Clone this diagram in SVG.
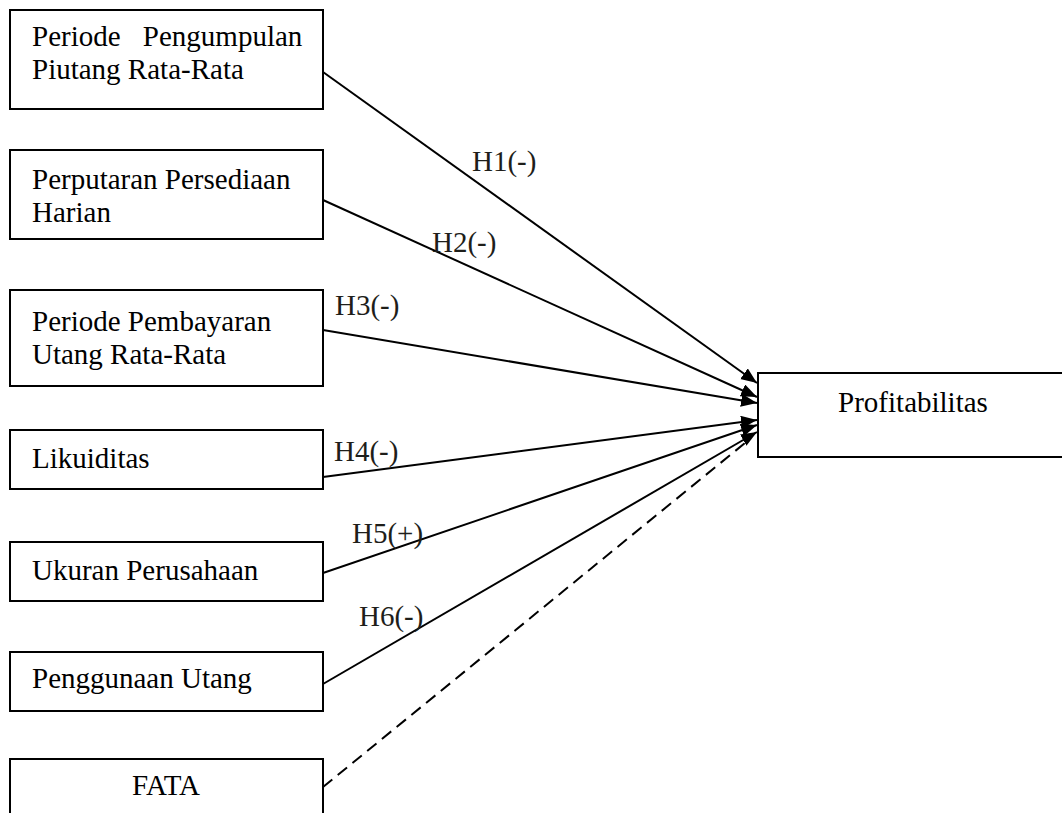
<svg xmlns="http://www.w3.org/2000/svg" width="1062" height="813" viewBox="0 0 1062 813">
<style>
.box{fill:#fff;stroke:#000;stroke-width:2}
.t{font-family:"Liberation Serif","Times New Roman",serif;font-size:29px;fill:#000}
.lbl{font-family:"Liberation Serif","Times New Roman",serif;font-size:29px;fill:#1e1e1a}
.c{stroke:#000;stroke-width:2;fill:none}
.d{stroke-dasharray:12 7}
</style>
<defs>
<marker id="ah" markerUnits="userSpaceOnUse" markerWidth="17" markerHeight="14" refX="16" refY="6.5" orient="auto">
<path d="M0,0 L16,6.5 L0,13 z" fill="#000"/>
</marker>
</defs>
<rect width="1062" height="813" fill="#fff"/>
<g id="connectors">
<line class="c" x1="323" y1="72" x2="757" y2="383" marker-end="url(#ah)"/>
<line class="c" x1="323" y1="200" x2="757" y2="397" marker-end="url(#ah)"/>
<line class="c" x1="323" y1="330" x2="757" y2="403" marker-end="url(#ah)"/>
<line class="c" x1="323" y1="477" x2="757" y2="420" marker-end="url(#ah)"/>
<line class="c" x1="323" y1="573" x2="757" y2="425" marker-end="url(#ah)"/>
<line class="c" x1="323" y1="684" x2="757" y2="432" marker-end="url(#ah)"/>
<line class="c d" x1="323" y1="787" x2="745" y2="443"/>
<text class="lbl" x="472" y="171">H1(-)</text>
<text class="lbl" x="432" y="252">H2(-)</text>
<text class="lbl" x="335" y="315">H3(-)</text>
<text class="lbl" x="334" y="461">H4(-)</text>
<text class="lbl" x="352" y="543">H5(+)</text>
<text class="lbl" x="359" y="626">H6(-)</text>
</g>
<g id="n1">
<rect class="box" x="10" y="10" width="313" height="99"/>
<text class="t" x="32" y="46" word-spacing="15">Periode Pengumpulan</text>
<text class="t" x="32" y="79">Piutang Rata-Rata</text>
</g>
<g id="n2">
<rect class="box" x="10" y="150" width="313" height="89"/>
<text class="t" x="32" y="189">Perputaran Persediaan</text>
<text class="t" x="32" y="222">Harian</text>
</g>
<g id="n3">
<rect class="box" x="10" y="290" width="313" height="96"/>
<text class="t" x="32" y="331">Periode Pembayaran</text>
<text class="t" x="32" y="364">Utang Rata-Rata</text>
</g>
<g id="n4">
<rect class="box" x="10" y="430" width="313" height="59"/>
<text class="t" x="32" y="468">Likuiditas</text>
</g>
<g id="n5">
<rect class="box" x="10" y="542" width="313" height="59"/>
<text class="t" x="32" y="580">Ukuran Perusahaan</text>
</g>
<g id="n6">
<rect class="box" x="10" y="652" width="313" height="59"/>
<text class="t" x="32" y="688">Penggunaan Utang</text>
</g>
<g id="n7">
<rect class="box" x="10" y="759" width="313" height="70"/>
<text class="t" x="166" y="795" text-anchor="middle">FATA</text>
</g>
<g id="n8">
<rect class="box" x="758" y="373" width="312" height="84"/>
<text class="t" x="913" y="412" text-anchor="middle">Profitabilitas</text>
</g>
</svg>
